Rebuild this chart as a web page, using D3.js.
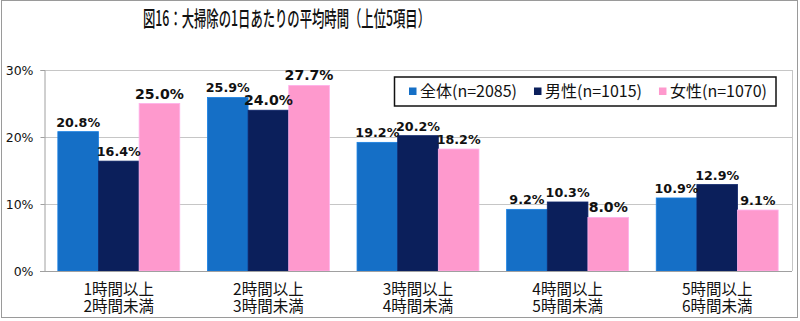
<!DOCTYPE html>
<html>
<head>
<meta charset="utf-8">
<script src="https://cdn.jsdelivr.net/npm/d3@7/dist/d3.min.js"></script>
<style>
  html, body { margin: 0; padding: 0; background: #fff; }
  #wrap { position: relative; width: 800px; height: 321px; }
  svg { display: block; position: absolute; left: 0; top: 0; }
  .cat { position: absolute; width: 140px; text-align: center; white-space: nowrap;
         font-family: 'Noto Sans CJK JP', sans-serif; font-size: 15.5px; color: #111;
         line-height: 16.5px; height: 16.5px; overflow: visible; }
</style>
</head>
<body>
<div id="wrap"><svg id="chart" width="800" height="321"></svg></div>
<script>
// ---- data ----
const title = "図16：大掃除の1日あたりの平均時間（上位5項目）";
const categories = [
  ["1時間以上", "2時間未満"],
  ["2時間以上", "3時間未満"],
  ["3時間以上", "4時間未満"],
  ["4時間以上", "5時間未満"],
  ["5時間以上", "6時間未満"]
];
const seriesNames = ["全体(n=2085)", "男性(n=1015)", "女性(n=1070)"];
const totalValues  = [20.8, 25.9, 19.2, 9.2, 10.9];
const maleValues   = [16.4, 24.0, 20.2, 10.3, 12.9];
const femaleValues = [25.0, 27.7, 18.2, 8.0, 9.1];
// labels shown emphasized in the reference (series index, category index)
const emphasized = [[2, 0], [1, 1], [2, 1], [2, 3]];
const yTicks = [0, 10, 20, 30];

const seriesValues = [totalValues, maleValues, femaleValues];
const colors = ["#156FC6", "#0B1F5B", "#FE99CD"];

// ---- layout ----
const svg = d3.select("#chart");
const plot = { left: 44, right: 792, top: 70, bottom: 271 };

// outer border
svg.append("rect")
  .attr("x", 1.5).attr("y", 0.5).attr("width", 796).attr("height", 317)
  .attr("fill", "none").attr("stroke", "#9a9a9a").attr("stroke-width", 1);

// title
svg.append("text")
  .attr("x", 143).attr("y", 26)
  .attr("textLength", 287).attr("lengthAdjust", "spacingAndGlyphs")
  .attr("font-family", "'Noto Sans CJK JP', sans-serif")
  .attr("font-size", 21).attr("font-weight", 500).attr("fill", "#111")
  .text(title);

const catIdx = d3.range(categories.length);
const x = d3.scaleBand().domain(catIdx).range([plot.left, plot.right])
  .paddingInner(0.185).paddingOuter(0.0925);
const xs = d3.scaleBand().domain(d3.range(seriesNames.length)).range([0, x.bandwidth()]);
const y = d3.scaleLinear().domain([0, 30]).range([plot.bottom, plot.top]);

// gridlines + plot border
const grid = svg.append("g");
grid.selectAll("line.g").data(yTicks.filter(t => t > 0)).join("line")
  .attr("x1", plot.left).attr("x2", plot.right)
  .attr("y1", d => Math.round(y(d)) + 0.5).attr("y2", d => Math.round(y(d)) + 0.5)
  .attr("stroke", "#c6c6c6").attr("stroke-width", 1);
grid.append("line")
  .attr("x1", plot.right + 0.5).attr("x2", plot.right + 0.5)
  .attr("y1", plot.top).attr("y2", plot.bottom)
  .attr("stroke", "#c6c6c6");

// bars
const gBars = svg.append("g");
seriesValues.forEach((vals, s) => {
  gBars.selectAll(null).data(vals).join("rect")
    .attr("x", (d, i) => x(i) + xs(s))
    .attr("y", d => y(d))
    .attr("width", xs.bandwidth())
    .attr("height", d => y(0) - y(d))
    .attr("fill", colors[s])
    .attr("stroke", d3.color(colors[s]).brighter(0.4))
    .attr("stroke-width", 0.8);
});

// y axis
const yAxis = d3.axisLeft(y).tickValues(yTicks).tickFormat(d => d + "%").tickSize(4).tickPadding(7);
const ga = svg.append("g").attr("transform", `translate(${plot.left + 0.5},0)`).call(yAxis);
ga.select(".domain").attr("stroke", "#a0a0a0");
ga.selectAll(".tick line").attr("stroke", "#a0a0a0");
ga.selectAll(".tick text")
  .attr("font-family", "'DejaVu Sans', Verdana, sans-serif")
  .attr("font-size", 12.5).attr("fill", "#111");

// x axis line
svg.append("line")
  .attr("x1", plot.left - 4).attr("x2", plot.right)
  .attr("y1", plot.bottom + 0.5).attr("y2", plot.bottom + 0.5)
  .attr("stroke", "#a0a0a0");

// category labels (two lines each, compact line boxes)
const wrap = d3.select("#wrap");
categories.forEach((lines, i) => {
  lines.forEach((ln, k) => {
    wrap.append("div").attr("class", "cat")
      .style("left", (x(i) + x.bandwidth() / 2 - 70) + "px")
      .style("top", (280 + k * 16.5) + "px")
      .text(ln);
  });
});

// value labels
const isEmph = (s, i) => emphasized.some(e => e[0] === s && e[1] === i);
const gLab = svg.append("g");
seriesValues.forEach((vals, s) => {
  gLab.selectAll(null).data(vals).join("text")
    .attr("x", (d, i) => x(i) + xs(s) + xs.bandwidth() / 2)
    .attr("y", d => y(d) - 5)
    .attr("text-anchor", "middle")
    .attr("font-family", "'DejaVu Sans', Verdana, sans-serif")
    .attr("font-weight", "bold")
    .attr("font-size", (d, i) => isEmph(s, i) ? 14.1 : 12.7)
    .attr("fill", "#111")
    .text(d => d.toFixed(1) + "%");
});

// legend
const lg = svg.append("g");
lg.append("rect")
  .attr("x", 394.5).attr("y", 77).attr("width", 381.5).attr("height", 29)
  .attr("fill", "#fff").attr("stroke", "#111").attr("stroke-width", 1.5);
let lx = 409;
seriesNames.forEach((name, s) => {
  lg.append("rect").attr("x", lx).attr("y", 87.5).attr("width", 7.5).attr("height", 7.5)
    .attr("fill", colors[s]);
  const t = lg.append("text").attr("x", lx + 11).attr("y", 97)
    .attr("font-family", "'Noto Sans CJK JP', sans-serif")
    .attr("font-size", 16).attr("fill", "#111").text(name);
  lx += 11 + t.node().getComputedTextLength() + 17;
});
</script>
</body>
</html>
